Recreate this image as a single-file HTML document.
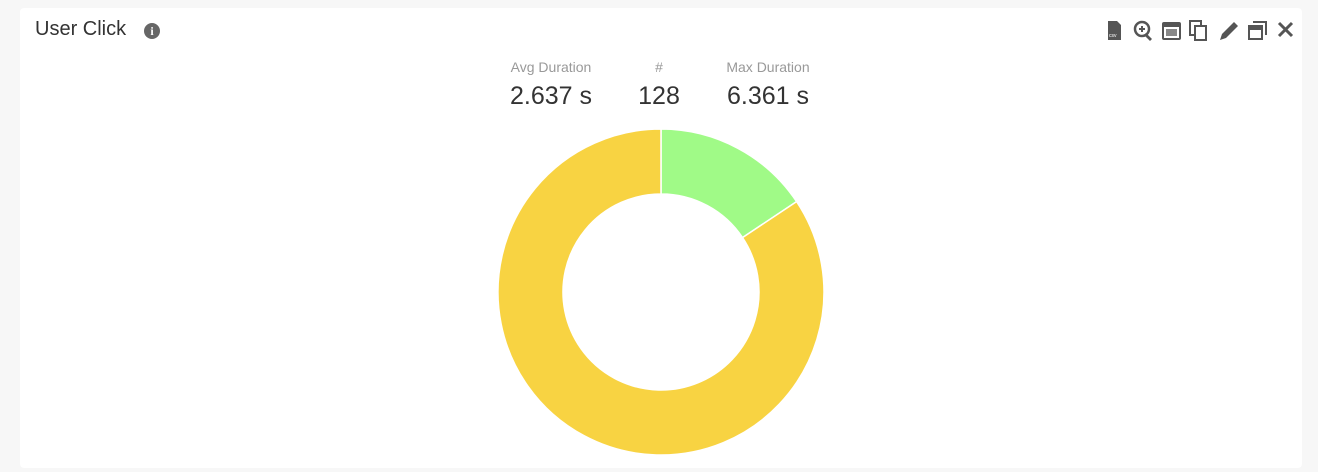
<!DOCTYPE html>
<html><head><style>
body{margin:0;width:1318px;height:472px;background:#f7f7f7;font-family:"Liberation Sans",sans-serif;position:relative;overflow:hidden}
.card{position:absolute;left:20px;top:8px;width:1282px;height:460px;background:#fff;border-radius:4px}
.t{position:absolute;left:35px;top:18px;font-size:20px;color:#333}
.info{position:absolute;left:144px;top:23px;width:16px;height:16px;border-radius:50%;background:#666;color:#fff;font-size:12px;font-weight:bold;text-align:center;line-height:16px;font-family:"Liberation Serif",serif}
.lbl{position:absolute;top:59px;font-size:14px;color:#999;text-align:center}
.val{position:absolute;top:82px;font-size:25px;color:#333;text-align:center}
</style></head><body>
<div class="card"></div>
<div class="t">User Click</div>
<div class="info">i</div>
<div class="lbl" style="left:491px;width:120px">Avg Duration</div>
<div class="lbl" style="left:629px;width:60px">#</div>
<div class="lbl" style="left:708px;width:120px">Max Duration</div>
<div class="val" style="left:481px;width:140px">2.637 s</div>
<div class="val" style="left:619px;width:80px">128</div>
<div class="val" style="left:698px;width:140px">6.361 s</div>
<svg width="1318" height="472" style="position:absolute;left:0;top:0">
<path d="M661 129 A163 163 0 0 1 796.6 201.6 L742.5 237.6 A98 98 0 0 0 661 194 Z" fill="#a0fa87" stroke="#fff" stroke-width="1.5"/>
<path d="M796.6 201.6 A163 163 0 1 1 661 129 L661 194 A98 98 0 1 0 742.5 237.6 Z" fill="#f8d342" stroke="#fff" stroke-width="1.5"/>
<g fill="#555">
<path d="M1108 21h9l4 4v15h-13z"/><text x="1109" y="37" font-size="5" fill="#fff" font-family="Liberation Sans">csv</text>
<circle cx="1142" cy="29" r="7" fill="none" stroke="#555" stroke-width="2.5"/><rect x="1139" y="28" width="6" height="2"/><rect x="1141" y="26" width="2" height="6"/><path d="M1146 33l6 6-2 2-6-6z"/>
<rect x="1163" y="23" width="17" height="16" rx="1" fill="none" stroke="#555" stroke-width="2"/><rect x="1163" y="23" width="17" height="4"/><rect x="1166" y="29" width="11" height="7" fill="#888"/>
<rect x="1190" y="21" width="11" height="14" fill="none" stroke="#555" stroke-width="2"/><rect x="1195" y="26" width="11" height="14" fill="#fff" stroke="#555" stroke-width="2"/>
<path d="M1220 40l2-6 12-12 4 4-12 12z"/>
<rect x="1249" y="26" width="13" height="13" fill="none" stroke="#555" stroke-width="2"/><rect x="1249" y="26" width="13" height="4"/><path d="M1253 22h13v13" fill="none" stroke="#555" stroke-width="2"/>
<path d="M1279 23l13 13M1292 23l-13 13" stroke="#555" stroke-width="3"/>
</g>
</svg>
</body></html>
